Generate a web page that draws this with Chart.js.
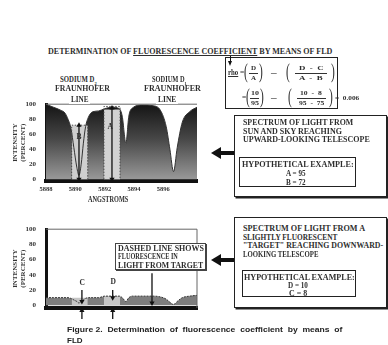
<!DOCTYPE html>
<html lang="en">
<head>
<meta charset="UTF-8">
<meta name="viewport" content="width=device-width, initial-scale=1.0">
<title>Determination of fluorescence coefficient by means of FLD</title>
<script src="https://cdn.jsdelivr.net/npm/chart.js@4.4.1/dist/chart.umd.min.js"></script>
<style>
  html, body { margin: 0; padding: 0; background: #fff; }
  #page { position: relative; width: 388px; height: 345px; overflow: hidden;
          font-family: "Liberation Serif", serif; font-weight: bold; color: #2e2e2e; }
  #page canvas { position: absolute; left: 0; }
  .t { position: absolute; white-space: nowrap; line-height: 1; transform-origin: 0 50%; }
  .box { position: absolute; box-sizing: border-box; border: 1px solid #222; background: #fff; }
  .shadow { box-shadow: 1.5px 1.5px 0 #222; }
  .bar { position: absolute; height: 1px; background: #333; }
  .head { position: absolute; width: 0; height: 0; border-top: 6px solid transparent;
          border-bottom: 6px solid transparent; border-right: 10px solid #111; }
  .shaft { position: absolute; height: 4px; background: #111; }
  .sans { font-family: "Liberation Sans", Arial, sans-serif; color: #222; }
  .paren { font-weight: normal; }
</style>
</head>
<body>
<div id="page">
  <canvas id="skyChart" width="210" height="120" style="top:90px"></canvas>
  <canvas id="targetChart" width="210" height="110" style="top:215px"></canvas>

  <!-- formula box -->
  <div class="box" style="left:225px;top:57px;width:113px;height:52px;border-width:1.5px"></div>
  <div style="position:absolute;left:229.5px;top:55px;width:1px;height:7px;background:#111"></div>
  <div style="position:absolute;left:227.5px;top:61px;width:0;height:0;border-left:2.5px solid transparent;border-right:2.5px solid transparent;border-top:5px solid #111"></div>

  <!-- sky box -->
  <div class="box shadow" style="left:234px;top:115px;width:153px;height:82px"></div>
  <div class="box" style="left:239px;top:157px;width:117px;height:30px;border-width:1.5px"></div>
  <div class="shaft" style="left:220px;top:151px;width:14px"></div>
  <div class="head" style="left:211px;top:147px"></div>

  <!-- target box -->
  <div class="box shadow" style="left:234px;top:217px;width:153px;height:91px"></div>
  <div class="box" style="left:242px;top:270px;width:114px;height:27px;border-width:1.5px"></div>
  <div class="shaft" style="left:220px;top:258px;width:14px"></div>
  <div class="head" style="left:211px;top:254px"></div>

  <!-- dashed line note -->
  <div class="box" style="left:115px;top:243px;width:91px;height:27px;border:1.5px solid #444;box-shadow:1px 1px 0 #444"></div>
</div>

<script>
// wavelength grid (angstroms) and read-off intensities (percent)
const wavelengths = [5888.0, 5888.5, 5889.0, 5889.3, 5889.5, 5889.7, 5889.9, 5890.1, 5890.25, 5890.4,
                     5890.55, 5890.7, 5890.9, 5891.2, 5891.6, 5892.0, 5892.5, 5893.0, 5893.2, 5893.45,
                     5893.65, 5893.9, 5894.6, 5895.3, 5895.8, 5896.2, 5896.45, 5896.7, 5896.95, 5897.3,
                     5897.8, 5898.3];
const skyIntensity = [100, 96, 92, 88, 80, 68, 42, 16, 5, 20,
                      48, 70, 83, 90, 91, 94, 96, 94, 84, 48,
                      84, 95, 99, 98, 92, 70, 40, 10, 42, 76,
                      90, 96];
const targetIntensity = [10, 10, 10, 10, 10, 9, 7, 5, 3, 5,
                         7, 9, 10, 10, 10, 12, 12, 12, 10, 5,
                         10, 12, 12, 12, 11, 8, 4, 1, 5, 10,
                         12, 13];

const xRange = [5888, 5898.3];
const xTicks = [5888, 5890, 5892, 5894, 5896];
const yTicks = [0, 20, 40, 60, 80, 100];

// hypothetical example readings
const exampleNames = ['A', 'B', 'C', 'D'];
const exampleValues = [95, 72, 8, 10];
const exampleAngstrom = [5892.5, 5890.25, 5890.45, 5892.55];

// D2 line band and continuum band, with the tops of their light areas
const bandD2 = [5889.75, 5890.85];
const bandCont = [5891.95, 5893.05];
const skyBandTops = [72, 93];
const skyOutlineTops = [72, 97];
const targetBandTops = [10, 12];
const noteArrowX = 5895.23;

const page = document.getElementById('page');

function txt(html, x, y, w, size, extra) {
  extra = extra || {};
  const d = document.createElement('div');
  d.className = 't' + (extra.cls ? ' ' + extra.cls : '');
  d.innerHTML = html;
  d.style.fontSize = size + 'px';
  d.style.top = (y - size / 2 + (extra.dy || 0)) + 'px';
  if (extra.bg) { d.style.background = extra.bg; d.style.padding = '0 2px'; }
  page.appendChild(d);
  const nat = d.offsetWidth;
  const s = w ? w / nat : 1;
  d.style.left = (extra.center ? x - nat * s / 2 : x) + 'px';
  d.style.transform = 'scaleX(' + s.toFixed(3) + ')';
  return d;
}
function bar(x0, x1, y) {
  const d = document.createElement('div');
  d.className = 'bar';
  d.style.left = x0 + 'px'; d.style.top = y + 'px'; d.style.width = (x1 - x0) + 'px';
  page.appendChild(d);
}

// title and line labels
txt('DETERMINATION OF <u>FLUORESCENCE COEFFICIENT</u> BY MEANS OF FLD', 48, 52, 285, 7.5);
txt('SODIUM D<sub style="font-size:5px">2</sub>', 60, 80, 37, 7.5);
txt('FRAUNHOFER', 55, 89, 55, 7.5);
txt('LINE', 69, 100, 21, 7.5, { bg: '#fff' });
txt('SODIUM D<sub style="font-size:5px">1</sub>', 152, 80, 35, 7.5);
txt('FRAUNHOFER', 144, 89, 57, 7.5);
txt('LINE', 156, 100, 22, 7.5, { bg: '#fff' });
txt('ANGSTROMS', 88, 200, 40, 7.5);
txt('A', 110, 127, 0, 7.5, { center: true });
txt('B', 79, 137, 0, 7.5, { center: true });
txt('C', 82, 283, 0, 7.5, { center: true });
txt('D', 113, 282, 0, 7.5, { center: true });

// formula
txt('<u>rho</u>', 233, 73, 10, 7.5, { center: true });
txt('=', 242, 73, 0, 7.5, { center: true });
txt('(', 246, 73, 4, 20, { cls: 'paren', center: true, dy: -2 });
txt('D', 253.5, 68, 0, 7, { center: true });
bar(249, 258, 73);
txt('A', 253.5, 78, 0, 7, { center: true });
txt(')', 261, 73, 4, 20, { cls: 'paren', center: true, dy: -2 });
txt('&ndash;', 274, 73, 6, 7.5, { center: true });
txt('(', 288, 73, 4, 20, { cls: 'paren', center: true, dy: -2 });
txt('D &nbsp;- &nbsp;C', 311, 68, 24, 7, { center: true });
bar(295, 327, 73);
txt('A &nbsp;- &nbsp;B', 311, 78, 24, 7, { center: true });
txt(')', 333, 73, 4, 20, { cls: 'paren', center: true, dy: -2 });

txt('=', 244, 98, 0, 7.5, { center: true });
txt('(', 248, 98, 4, 20, { cls: 'paren', center: true, dy: -2 });
txt('10', 254.5, 93, 8, 7, { center: true });
bar(250, 259, 98);
txt('95', 254.5, 103, 8, 7, { center: true });
txt(')', 262, 98, 4, 20, { cls: 'paren', center: true, dy: -2 });
txt('&ndash;', 274, 98, 6, 7.5, { center: true });
txt('(', 290, 98, 4, 20, { cls: 'paren', center: true, dy: -2 });
txt('10 &nbsp;- &nbsp;8', 311, 93, 22, 7, { center: true });
bar(297, 326, 98);
txt('95 &nbsp;- &nbsp;75', 311, 103, 25, 7, { center: true });
txt(')', 331, 98, 4, 20, { cls: 'paren', center: true, dy: -2 });
txt('= &nbsp;0.006', 335, 98, 24, 7);

// sky box text
txt('SPECTRUM OF LIGHT FROM', 243, 123, 110, 7.5);
txt('SUN AND SKY REACHING', 243, 131.5, 99, 7.5);
txt('UPWARD-LOOKING TELESCOPE', 243, 140, 127, 7.5);
txt('HYPOTHETICAL EXAMPLE:', 242, 165, 112, 7.5);
txt(exampleNames[0] + ' = ' + exampleValues[0], 296, 174, 20, 7.5, { center: true });
txt(exampleNames[1] + ' = ' + exampleValues[1], 296, 182.5, 20, 7.5, { center: true });

// target box text
txt('SPECTRUM OF LIGHT FROM A', 243, 229, 122, 7.5);
txt('SLIGHTLY FLUORESCENT', 243, 237.5, 94, 7.5);
txt('"TARGET" REACHING DOWNWARD-', 243, 246, 140, 7.5);
txt('LOOKING TELESCOPE', 243, 254.5, 75, 7.5);
txt('HYPOTHETICAL EXAMPLE:', 244, 278, 111, 7.5);
txt(exampleNames[3] + ' = ' + exampleValues[3], 298, 286, 20, 7.5, { center: true });
txt(exampleNames[2] + ' = ' + exampleValues[2], 298, 294, 18, 7.5, { center: true });

// note box text
txt('DASHED LINE SHOWS', 118, 248.5, 86, 7.5);
txt('FLUORESCENCE IN', 118, 257, 60, 7.5);
txt('LIGHT FROM TARGET', 118, 265.5, 85, 7.5);

// caption
txt('Figure 2. &nbsp;Determination &nbsp;of &nbsp;fluorescence &nbsp;coefficient &nbsp;by &nbsp;means &nbsp;of', 67, 330, 275, 8, { cls: 'sans' });
txt('FLD', 67, 341, 16, 8, { cls: 'sans' });

// chart helpers
const pts = (xs, ys) => xs.map((x, i) => ({ x: x, y: ys[i] }));

function bandFill(band, top, color) {
  return { data: [{ x: band[0], y: top }, { x: band[1], y: top }], fill: 'origin',
           backgroundColor: color, borderWidth: 0, order: 5 };
}
function bandOutline(band, top) {
  return { data: [{ x: band[0], y: 0 }, { x: band[0], y: top }, { x: band[1], y: top }, { x: band[1], y: 0 }],
           borderColor: '#4a4a4a', borderWidth: 1, borderDash: [1.5, 1.5], fill: false, order: 2 };
}
function arrow(x, y0, y1, heads) {
  return {
    data: [{ x: x, y: y0 }, { x: x, y: y1 }],
    borderColor: '#111', borderWidth: 1.3, fill: false, clip: false, order: 1,
    pointStyle: 'triangle',
    pointRadius: c => heads[c.dataIndex] ? 3 : 0,
    pointRotation: c => c.dataIndex === 0 ? (y0 > y1 ? 0 : 180) : (y1 < y0 ? 180 : 0),
    pointBackgroundColor: '#111', pointBorderWidth: 0
  };
}
function frame(points) {
  return { data: points, borderColor: '#666', borderWidth: 1, fill: false, clip: false, order: 3 };
}

const tickFont = { family: 'Liberation Serif', size: 7, weight: 'bold' };

function makeScales(yMin, xHeight, showX) {
  return {
    x: {
      type: 'linear', min: xRange[0], max: xRange[1],
      afterFit: s => { s.height = xHeight; },
      afterBuildTicks: s => { s.ticks = xTicks.map(v => ({ value: v })); },
      grid: { display: false, drawTicks: false },
      border: { display: true, color: '#111', width: 4 },
      ticks: { display: showX, padding: 4, color: '#333', autoSkip: false, maxRotation: 0,
               font: { family: 'Liberation Serif', size: 6.5, weight: 'bold' },
               callback: v => String(v) }
    },
    y: {
      min: yMin, max: 100,
      afterFit: s => { s.width = 46; },
      afterBuildTicks: s => { s.ticks = yTicks.map(v => ({ value: v })); },
      grid: { display: false, drawTicks: false },
      border: { display: true, color: '#111', width: 3 },
      ticks: { padding: 10, color: '#333', font: tickFont, callback: v => String(v) },
      title: { display: true, text: ['INTENSITY', '(PERCENT)'], color: '#333', font: tickFont,
               padding: { top: 11, bottom: 0 } }
    }
  };
}

const common = {
  responsive: false, animation: false, devicePixelRatio: 1,
  elements: { point: { radius: 0 }, line: { tension: 0 } },
  plugins: { legend: { display: false }, tooltip: { enabled: false },
             filler: { drawTime: 'beforeDatasetsDraw' } }
};

// upper chart: sun and sky
new Chart(document.getElementById('skyChart'), {
  type: 'line',
  data: {
    datasets: [
      {
        data: pts(wavelengths, skyIntensity), fill: 'origin', order: 10,
        borderColor: '#333', borderWidth: 1, cubicInterpolationMode: 'monotone',
        backgroundColor: c => {
          const a = c.chart.chartArea;
          if (!a) return '#555';
          const g = c.chart.ctx.createLinearGradient(0, a.top, 0, a.bottom);
          g.addColorStop(0, '#141414');
          g.addColorStop(0.45, '#474747');
          g.addColorStop(1, '#9c9c9c');
          return g;
        }
      },
      bandFill(bandD2, skyBandTops[0], '#cfcfcf'),
      bandFill(bandCont, skyBandTops[1], '#d2d2d2'),
      bandOutline(bandD2, skyOutlineTops[0]),
      bandOutline(bandCont, skyOutlineTops[1]),
      frame([{ x: xRange[0], y: 100 }, { x: xRange[1], y: 100 }]),
      arrow(exampleAngstrom[0], exampleValues[0], 0, [true, true]),
      arrow(exampleAngstrom[1], exampleValues[1], 0, [true, true])
    ]
  },
  options: Object.assign({}, common, {
    layout: { padding: { left: 0, right: 13, top: 10, bottom: 0 } },
    scales: makeScales(-2.5, 29, true)
  })
});

// lower chart: fluorescent target
new Chart(document.getElementById('targetChart'), {
  type: 'line',
  data: {
    datasets: [
      {
        data: pts(wavelengths, targetIntensity), fill: 'origin', order: 10,
        borderColor: '#333', borderWidth: 1, borderDash: [2, 1], cubicInterpolationMode: 'monotone',
        backgroundColor: '#7e7e7e'
      },
      bandFill(bandD2, targetBandTops[0], '#c6c6c6'),
      bandFill(bandCont, targetBandTops[1], '#c6c6c6'),
      frame([{ x: xRange[0], y: 100 }, { x: xRange[1], y: 100 }]),
      frame([{ x: xRange[1], y: -3.6 }, { x: xRange[1], y: 100 }]),
      arrow(exampleAngstrom[2], 20, exampleValues[2] - 3, [false, true]),
      arrow(exampleAngstrom[3], 20, exampleValues[3], [false, true]),
      arrow(exampleAngstrom[2], -18, -7, [false, true]),
      arrow(exampleAngstrom[3], -18, -7, [false, true]),
      arrow(noteArrowX, 42, 3, [false, true])
    ]
  },
  options: Object.assign({}, common, {
    layout: { padding: { left: 0, right: 13, top: 7, bottom: 0 } },
    scales: makeScales(-3.6, 17, false)
  })
});
</script>
</body>
</html>
